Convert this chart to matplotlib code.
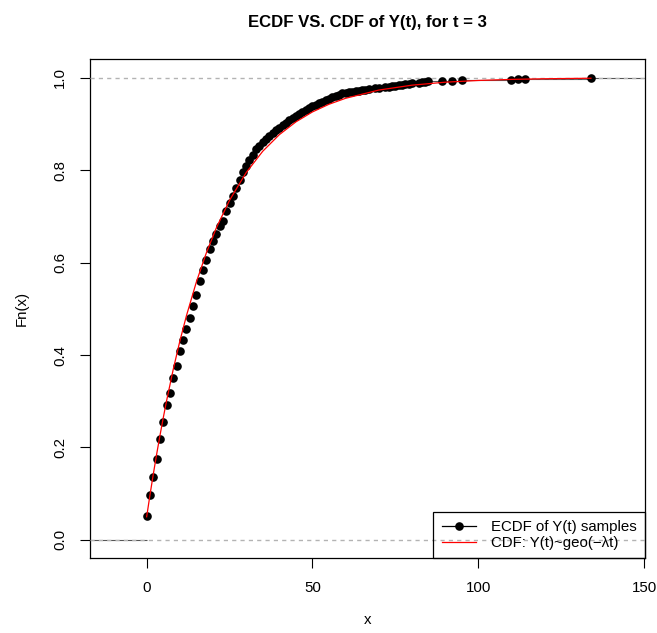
"""
ECDF of Y(t) samples against the geometric CDF, for t = 3
"""
import matplotlib
matplotlib.use('Agg')
import matplotlib.pyplot as plt
from matplotlib.lines import Line2D

plt.rcParams['font.family'] = ['Liberation Sans', 'DejaVu Sans']

# ECDF knots (distinct sample values) and their Fn(x) values
ecdf_x = [0, 1, 2, 3, 4, 5, 6, 7, 8, 9, 10, 11, 12, 13, 14, 15, 16, 17, 18, 19,
          20, 21, 22, 23, 24, 25, 26, 27, 28, 29, 30, 31, 32, 33, 34, 35, 36, 37, 38, 39,
          40, 41, 42, 43, 44, 45, 46, 47, 48, 49, 50, 51, 52, 53, 54, 55, 56, 57, 58, 59,
          60, 61, 62, 63, 64, 65, 66, 67, 69, 70, 72, 73, 74, 75, 76, 77, 78, 79, 80,
          82, 83, 84, 85, 89, 92, 95, 110, 112, 114, 134]
ecdf_y = [0.052, 0.098, 0.137, 0.175, 0.219, 0.255, 0.291, 0.317, 0.351, 0.377,
          0.408, 0.433, 0.457, 0.480, 0.505, 0.529, 0.561, 0.584, 0.605, 0.630,
          0.647, 0.661, 0.679, 0.691, 0.712, 0.728, 0.745, 0.762, 0.778, 0.795,
          0.808, 0.821, 0.832, 0.845, 0.852, 0.861, 0.868, 0.875, 0.881, 0.887,
          0.892, 0.898, 0.903, 0.908, 0.913, 0.917, 0.921, 0.925, 0.930, 0.934,
          0.938, 0.941, 0.945, 0.948, 0.952, 0.955, 0.958, 0.961, 0.963, 0.966,
          0.968, 0.969, 0.970, 0.971, 0.972, 0.973, 0.974, 0.975, 0.977, 0.978,
          0.980, 0.981, 0.982, 0.983, 0.984, 0.985, 0.986, 0.987, 0.988,
          0.989, 0.990, 0.991, 0.992, 0.993, 0.994, 0.995, 0.996, 0.997, 0.998, 1.000]

# theoretical CDF curve (red line)
cdf_x = [0, 1, 2, 3, 4, 5, 6, 8, 10, 12, 15, 18, 21, 25, 30, 35, 40, 45, 50,
         55, 60, 70, 80, 90, 100, 110, 120, 134]
cdf_y = [0.0498, 0.0971, 0.1420, 0.1848, 0.2253, 0.2639, 0.3006, 0.3685, 0.4298,
         0.4851, 0.5583, 0.6210, 0.6749, 0.7349, 0.7947, 0.8409, 0.8768, 0.9045,
         0.9261, 0.9427, 0.9556, 0.9734, 0.9840, 0.9904, 0.9942, 0.9965, 0.9979, 0.9990]

x_ticks = [0, 50, 100, 150]
y_ticks = [0.0, 0.2, 0.4, 0.6, 0.8, 1.0]

XLIM = (-17.0, 150.3)
YLIM = (-0.04, 1.04)

W, H = 657, 633
fig = plt.figure(figsize=(W / 100, H / 100), dpi=100)
ax = fig.add_axes([90.3 / W, 1 - 558.3 / H, (645 - 90.3) / W, (558.3 - 59.3) / H])

# horizontal steps of the ECDF
step_col = '#555555'
ax.hlines(ecdf_y[:-1], ecdf_x[:-1], ecdf_x[1:], color=step_col, lw=0.8, zorder=2)
ax.hlines([0.0], XLIM[0], ecdf_x[0], color=step_col, lw=0.8, zorder=2)
ax.hlines([1.0], ecdf_x[-1], XLIM[1], color=step_col, lw=0.8, zorder=2)

# 0 / 1 reference lines
for h in (0.0, 1.0):
    ax.axhline(h, color='#b3b3b3', lw=1, ls=(0, (3, 3)), zorder=3)

ax.plot(ecdf_x, ecdf_y, 'o', color='black', ms=6.2, mew=0, zorder=4)
ax.plot(cdf_x, cdf_y, color='red', lw=0.9, zorder=5)

ax.set_xlim(*XLIM)
ax.set_ylim(*YLIM)
ax.set_xticks(x_ticks)
ax.set_xticklabels([str(t) for t in x_ticks])
ax.set_yticks(y_ticks)
ax.set_yticklabels([f'{t:.1f}' for t in y_ticks], rotation=90, va='center')
ax.tick_params(axis='both', length=7.2, width=0.8, pad=9.5, labelsize=10.8, colors='black')

for sp in ax.spines.values():
    sp.set_linewidth(0.9)
    sp.set_color('black')

fig.text(0.5 * (90.3 + 645) / W, 1 - 22 / H, 'ECDF VS. CDF of Y(t), for t = 3',
         ha='center', va='center', fontsize=12.1, fontweight='bold')
fig.text(22 / W, 1 - 308 / H, 'Fn(x)', ha='center', va='center', rotation=90, fontsize=10.8)
fig.text(0.5 * (90.3 + 645) / W, 1 - 620 / H, 'x', ha='center', va='center', fontsize=10.8)

handles = [
    Line2D([], [], color='black', marker='o', ms=6.2, mew=0, lw=0.9),
    Line2D([], [], color='red', lw=0.9),
]
labels = ['ECDF of Y(t) samples', 'CDF: Y(t)~geo(\u2212\u03bbt)']
leg = ax.legend(handles, labels, loc='lower right', bbox_to_anchor=(1, 0),
                borderaxespad=0, fontsize=10.8, handlelength=2.3, handletextpad=1.0,
                borderpad=0.55, labelspacing=0.15, fancybox=False)
frame = leg.get_frame()
frame.set_facecolor('none')
frame.set_edgecolor('black')
frame.set_linewidth(0.9)
frame.set_alpha(1)
leg.set_zorder(6)

fig.savefig('out.png', dpi=100)
